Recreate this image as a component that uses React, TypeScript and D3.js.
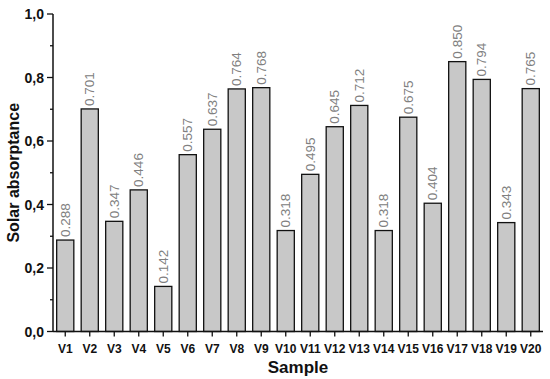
import React from "react";
import * as d3 from "d3";

const categories = ["V1","V2","V3","V4","V5","V6","V7","V8","V9","V10","V11","V12","V13","V14","V15","V16","V17","V18","V19","V20"];
const values = [0.288,0.701,0.347,0.446,0.142,0.557,0.637,0.764,0.768,0.318,0.495,0.645,0.712,0.318,0.675,0.404,0.850,0.794,0.343,0.765];
const majorTicks = [0, 0.2, 0.4, 0.6, 0.8, 1.0];
const minorTicks = [0.1, 0.3, 0.5, 0.7, 0.9];

export default function App() {
  const W = 550, H = 379;
  const left = 53, right = 543, top = 14, bottom = 331.5;
  const x = d3.scaleBand().domain(categories).range([left, right]).paddingInner(0.3).paddingOuter(0.15);
  const y = d3.scaleLinear().domain([0, 1]).range([bottom, top]);
  const font = "Liberation Sans, Arial, sans-serif";
  return (
    <svg width={W} height={H} style={{ position: "absolute", left: 0, top: 0, background: "#fff" }}>
      {categories.map((c, i) => (
        <g key={c}>
          <rect x={x(c)} y={y(values[i])} width={x.bandwidth()} height={bottom - y(values[i])}
            fill="#c8c8c8" stroke="#111" strokeWidth={1.3} />
          <text transform={`translate(${x(c)! + x.bandwidth() / 2},${y(values[i]) - 3}) rotate(-90)`}
            dominantBaseline="central" fontFamily={font} fontSize={13.5} fill="#808080">
            {values[i].toFixed(3)}
          </text>
        </g>
      ))}
      <line x1={left} x2={left} y1={top} y2={bottom} stroke="#111" strokeWidth={1.5} />
      <line x1={left} x2={right} y1={bottom} y2={bottom} stroke="#111" strokeWidth={1.5} />
      {majorTicks.map(t => (
        <g key={t}>
          <line x1={left - 6} x2={left} y1={y(t)} y2={y(t)} stroke="#111" strokeWidth={1.3} />
          <text x={left - 9} y={y(t)} textAnchor="end" dominantBaseline="central" fontFamily={font}
            fontWeight="bold" fontSize={14} fill="#111">{t.toFixed(1).replace(".", ",")}</text>
        </g>
      ))}
      {minorTicks.map(t => (
        <line key={t} x1={left - 3} x2={left} y1={y(t)} y2={y(t)} stroke="#111" strokeWidth={1.3} />
      ))}
      {categories.map(c => (
        <g key={"t" + c}>
          <line x1={x(c)! + x.bandwidth() / 2} x2={x(c)! + x.bandwidth() / 2} y1={bottom} y2={bottom + 5}
            stroke="#111" strokeWidth={1.3} />
          <text x={x(c)! + x.bandwidth() / 2} y={bottom + 21} textAnchor="middle" fontFamily={font}
            fontWeight="bold" fontSize={12} fill="#111">{c}</text>
        </g>
      ))}
      <text x={(left + right) / 2} y={373} textAnchor="middle" fontFamily={font} fontWeight="bold"
        fontSize={17} fill="#111">Sample</text>
      <text transform={`translate(13,${(top + bottom) / 2}) rotate(-90)`} textAnchor="middle"
        dominantBaseline="central" fontFamily={font} fontWeight="bold" fontSize={16} fill="#111">Solar absorptance</text>
    </svg>
  );
}
